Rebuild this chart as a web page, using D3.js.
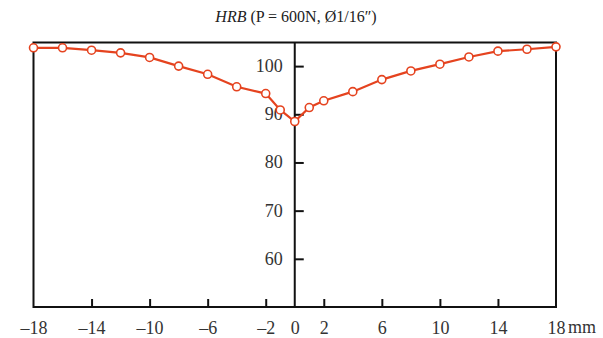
<!DOCTYPE html>
<html>
<head>
<meta charset="utf-8">
<script src="https://cdn.jsdelivr.net/npm/d3@7"></script>
<style>
  body { margin: 0; background: #fff; }
  text { font-family: "Liberation Serif", "DejaVu Serif", serif; }
</style>
</head>
<body>
<script>
// hardness profile, distance from centre (mm)
var positions = [-18, -16, -14, -12, -10, -8, -6, -4, -2, -1, 0, 1, 2, 4, 6, 8, 10, 12, 14, 16, 18];
var hardness = [103.8, 103.8, 103.3, 102.75, 101.8, 100.0, 98.3, 95.7, 94.3, 90.9, 88.5,
                91.4, 92.8, 94.7, 97.2, 99.0, 100.4, 101.9, 103.1, 103.5, 104.0];
var xLabels = [-18, -14, -10, -6, -2, 0, 2, 6, 10, 14, 18];
var xTicks = [-14, -10, -6, -2, 2, 6, 10, 14];
var yTicks = [60, 70, 80, 90, 100];

var width = 603, height = 338;
var red = "#e5431f";

var svg = d3.select("body").append("svg")
            .attr("width", width)
            .attr("height", height);

var x = d3.scaleLinear().domain([-18, 18]).range([33.5, 556]);
var y = d3.scaleLinear().domain([50, 104.9]).range([307, 42.5]);

// title
var title = svg.append("text")
               .attr("x", 296)
               .attr("y", 22)
               .attr("text-anchor", "middle")
               .style("font-size", "16px")
               .attr("fill", "#222");
title.append("tspan").style("font-style", "italic").text("HRB");
title.append("tspan").text(" (P = 600N, \u00D81/16\u2033)");

// frame
svg.append("rect")
   .attr("x", x(-18))
   .attr("y", y.range()[1])
   .attr("width", x(18) - x(-18))
   .attr("height", y.range()[0] - y.range()[1])
   .attr("fill", "none")
   .attr("stroke", "#111")
   .attr("stroke-width", 2);

// x tick marks (pointing up)
var xTickAxis = d3.axisBottom(x).tickValues(xTicks).tickSize(-8).tickFormat("");
var gxt = svg.append("g")
             .attr("transform", "translate(0," + y(50) + ")")
             .call(xTickAxis);
gxt.select(".domain").remove();
gxt.selectAll("line").attr("stroke", "#111").attr("stroke-width", 2);

// x labels
var xLabelAxis = d3.axisBottom(x).tickValues(xLabels).tickSize(0).tickPadding(14)
                   .tickFormat(function(d) { return d < 0 ? "\u2013" + (-d) : String(d); });
var gxl = svg.append("g")
             .attr("transform", "translate(0," + y(50) + ")")
             .call(xLabelAxis);
gxl.select(".domain").remove();
gxl.selectAll("text")
   .style("font-size", "18px")
   .style("font-family", "Liberation Serif")
   .attr("fill", "#333");

svg.append("text")
   .attr("x", x(18) + 12)
   .attr("y", 333)
   .style("font-size", "18px")
   .attr("fill", "#333")
   .text("mm");

// y axis through zero, ticks to the right
var yAxis = d3.axisRight(y).tickValues(yTicks).tickSize(9).tickFormat("");
var gy = svg.append("g")
            .attr("transform", "translate(" + x(0) + ",0)")
            .call(yAxis);
gy.select(".domain").remove();
gy.selectAll("line").attr("stroke", "#111").attr("stroke-width", 2);

svg.append("line")
   .attr("x1", x(0)).attr("x2", x(0))
   .attr("y1", y.range()[1]).attr("y2", y.range()[0])
   .attr("stroke", "#111")
   .attr("stroke-width", 2);

// y labels on the left of the axis
svg.selectAll(".ylab")
   .data(yTicks)
   .enter().append("text")
   .attr("class", "ylab")
   .attr("x", x(0) - 12)
   .attr("y", function(d) { return y(d) + 6; })
   .attr("text-anchor", "end")
   .style("font-size", "18px")
   .attr("fill", "#333")
   .text(function(d) { return d; });

// profile line
var pts = positions.map(function(p, i) { return [p, hardness[i]]; });
var line = d3.line()
             .x(function(d) { return x(d[0]); })
             .y(function(d) { return y(d[1]); });

svg.append("path")
   .datum(pts)
   .attr("d", line)
   .attr("fill", "none")
   .attr("stroke", red)
   .attr("stroke-width", 2.2);

svg.selectAll(".pt")
   .data(pts)
   .enter().append("circle")
   .attr("class", "pt")
   .attr("cx", function(d) { return x(d[0]); })
   .attr("cy", function(d) { return y(d[1]); })
   .attr("r", 4)
   .attr("fill", "#fff")
   .attr("stroke", red)
   .attr("stroke-width", 1.6);
</script>
</body>
</html>
